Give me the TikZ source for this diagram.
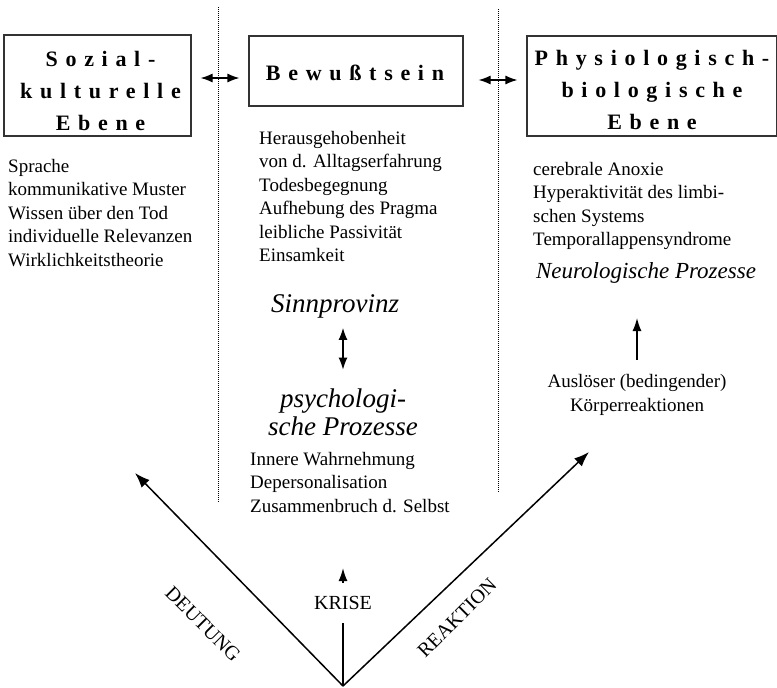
\documentclass[tikz,border=0pt]{standalone}
\usepackage{fontspec}
\setmainfont{Liberation Serif}
\newfontfamily\sperrfont[LetterSpace=35]{Liberation Serif}
\usetikzlibrary{arrows.meta,positioning}

\tikzset{
  ebene/.style={draw=black!80, line width=1.2pt, inner sep=0pt},
  titel/.style={inner sep=0pt, align=center, font=\sperrfont\bfseries\fontsize{22}{32}\selectfont},
  liste/.style={inner sep=0pt, align=left, font=\fontsize{19}{23.5}\selectfont},
  prozess/.style={inner sep=0pt, align=center, font=\itshape\fontsize{27}{28}\selectfont},
  richtung/.style={inner sep=0pt, font=\fontsize{20}{24}\selectfont},
  trenner/.style={line width=1pt, dash pattern=on 1pt off 1pt},
  wechsel/.style={{Latex[length=12pt,width=9pt]}-{Latex[length=12pt,width=9pt]}, line width=1.2pt},
  pfeil/.style={-{Latex[length=15pt,width=11pt]}, line width=1.5pt},
  pfeilklein/.style={-{Latex[length=13pt,width=9pt]}, line width=1.2pt},
}

\begin{document}
\begin{tikzpicture}[x=1pt, y=-1pt]
\useasboundingbox (0,0) rectangle (777,688);
% Ebenen
    \node[ebene, minimum width=187pt, minimum height=101pt] (sozial) at (97.5,85.5) {};
    \node[titel] at ([xshift=3pt,yshift=-5.5pt]sozial.center) {Sozial-\\kulturelle\\Ebene};
    \node[ebene, minimum width=214pt, minimum height=70pt] (bewusst) at (356,71) {};
    \node[titel, anchor=base] at (355,80) {Bewußtsein};
    \node[ebene, minimum width=250pt, minimum height=100pt] (physio) at (652,86) {};
    \node[titel] at ([xshift=0pt,yshift=-4pt]physio.center) {Physiologisch-\\biologische\\Ebene};
% Trennlinien
    \draw[trenner] (218,7) -- (218,502);
    \draw[trenner] (498,9) -- (498,492);
    \draw[wechsel] ([xshift=9pt,yshift=7.5pt]sozial.east) -- ([xshift=-9pt,yshift=-7pt]bewusst.west);
    \draw[wechsel] ([xshift=15pt,yshift=-9pt]bewusst.east) -- ([xshift=-9pt,yshift=6pt]physio.west);
% Listen (base = letzte Zeile)
    \node[liste, anchor=base west] (sozliste) at (8,266) {Sprache\\kommunikative Muster\\Wissen über den Tod\\individuelle Relevanzen\\Wirklichkeitstheorie};
    \node[liste, anchor=base west] (bewliste) at (259,261.5) {Herausgehobenheit\\von d. Alltagserfahrung\\Todesbegegnung\\Aufhebung des Pragma\\leibliche Passivität\\Einsamkeit};
    \node[liste, anchor=base west] (physliste) at (533,245.5) {cerebrale Anoxie\\Hyperaktivität des limbi-\\schen Systems\\Temporallappensyndrome};
    \node[liste, anchor=base west] (psyliste) at (250,512) {Innere Wahrnehmung\\Depersonalisation\\Zusammenbruch d. Selbst};
% Prozesse
    \node[prozess, anchor=base] (sinn) at (335,312) {Sinnprovinz};
    \node[prozess, anchor=base] (psych) at (343,435) {psychologi-\\sche Prozesse};
    \draw[wechsel] ([yshift=-10pt]sinn.south -| psych.north) -- ([yshift=18.5pt]psych.north);
    \node[prozess, anchor=base, font=\itshape\fontsize{23}{28}\selectfont] (neuro) at (646,278) {Neurologische Prozesse};
    \node[liste, align=center, anchor=base] (ausloeser) at (637,411) {Auslöser (bedingender)\\Körperreaktionen};
    \draw[pfeilklein] ([yshift=14pt]ausloeser.north) -- ([yshift=-35pt]ausloeser.north |- neuro.south);
% Krise
    \coordinate (wurzel) at (343,686);
    \coordinate (deutungsziel) at (135,473);
    \coordinate (reaktionsziel) at (589,452);
    \draw[pfeil] (wurzel) -- (deutungsziel);
    \draw[pfeil] (wurzel) -- (reaktionsziel);
    \node[richtung] (krise) at (343,603) {KRISE};
    \draw[line width=1.5pt] (wurzel) -- ([yshift=-13pt]krise.south);
    \draw[pfeilklein, line width=1.5pt] ([yshift=13pt]krise.north) -- ++(0,-15);
    \node[richtung, rotate=-45] (deutung) at (203,624) {DEUTUNG};
    \node[richtung, rotate=45] (reaktion) at (457,618) {REAKTION};
\end{tikzpicture}
\end{document}
